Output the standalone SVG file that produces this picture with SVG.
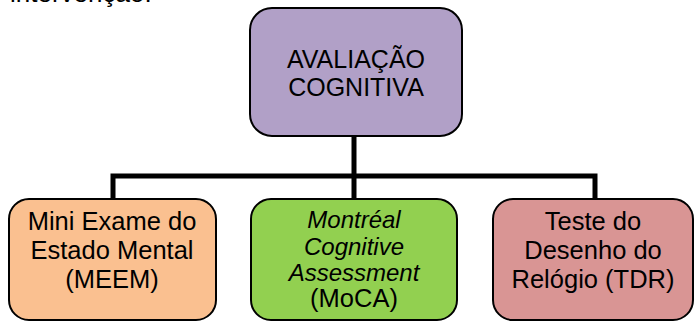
<svg xmlns="http://www.w3.org/2000/svg" width="696" height="322" viewBox="0 0 696 322">
<style>
.box{stroke:#000;stroke-width:2}
.t{font-family:"Liberation Sans",Arial,sans-serif;fill:#000;text-anchor:middle}
.c{stroke:#000;stroke-width:5;fill:none}
</style>
<rect width="696" height="322" fill="#fff"/>
<text x="10" y="2" font-family="Liberation Sans, Arial, sans-serif" font-size="26" fill="#000">intervenção.</text>
<g id="connectors">
<path class="c" d="M354,136 V176 M113,199 V176 H595 V199 M354,176 V199"/>
</g>
<g id="avaliacao">
<rect class="box" x="250" y="8" width="212" height="128" rx="22" fill="#B1A0C7"/>
<text class="t" font-size="25"><tspan x="356" y="68">AVALIAÇÃO</tspan><tspan x="356" y="96">COGNITIVA</tspan></text>
</g>
<g id="meem">
<rect class="box" x="9" y="199" width="207" height="121" rx="20" fill="#FAC090"/>
<text class="t" font-size="25.5"><tspan x="112" y="230">Mini Exame do</tspan><tspan x="112" y="259">Estado Mental</tspan><tspan x="112" y="288">(MEEM)</tspan></text>
</g>
<g id="moca">
<rect class="box" x="251" y="199" width="206" height="121" rx="20" fill="#92D050"/>
<text class="t" font-size="24"><tspan x="354" y="228" font-style="italic">Montréal</tspan><tspan x="354" y="255" font-style="italic">Cognitive</tspan><tspan x="354" y="281" font-style="italic">Assessment</tspan><tspan x="354" y="307" font-size="25.5">(MoCA)</tspan></text>
</g>
<g id="tdr">
<rect class="box" x="493" y="199" width="200" height="121" rx="20" fill="#D99594"/>
<text class="t" font-size="25.5"><tspan x="593" y="230">Teste do</tspan><tspan x="593" y="259">Desenho do</tspan><tspan x="593" y="288">Relógio (TDR)</tspan></text>
</g>
</svg>
